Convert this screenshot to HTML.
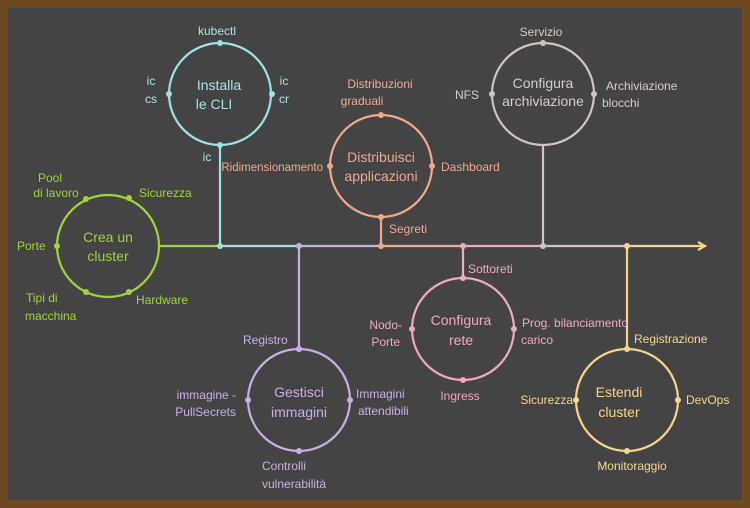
<!DOCTYPE html>
<html><head><meta charset="utf-8"><style>
html,body{margin:0;padding:0;background:#6e4a22;}
svg{display:block}
text{font-family:"Liberation Sans",sans-serif;font-size:12px}
.c{font-size:14px;text-anchor:middle}
</style></head><body>
<svg width="750" height="508" viewBox="0 0 750 508" xmlns="http://www.w3.org/2000/svg">
<rect x="0" y="0" width="750" height="508" fill="#6e4a22"/>
<rect x="8" y="8" width="734" height="492" fill="#444444"/>
<g stroke-width="2.2" fill="none">
<!-- main line -->
<line x1="159" y1="246" x2="220" y2="246" stroke="#9ed43a"/>
<line x1="220" y1="246" x2="298" y2="246" stroke="#9fe0e8"/>
<line x1="298" y1="246" x2="381" y2="246" stroke="#c9aee6"/>
<line x1="381" y1="246" x2="463" y2="246" stroke="#f0a98a"/>
<line x1="463" y1="246" x2="543" y2="246" stroke="#f1a8c2"/>
<line x1="543" y1="246" x2="627" y2="246" stroke="#cfc3c3"/>
<line x1="627" y1="246" x2="703" y2="246" stroke="#f5d58a"/>
<polyline points="698,242 705,246 698,250" stroke="#f5d58a"/>
<!-- stems -->
<line x1="220" y1="145" x2="220" y2="246" stroke="#9fe0e8"/>
<line x1="381" y1="217" x2="381" y2="246" stroke="#f0a98a"/>
<line x1="543" y1="146" x2="543" y2="246" stroke="#cfc3c3"/>
<line x1="299" y1="246" x2="299" y2="348" stroke="#c9aee6"/>
<line x1="463" y1="246" x2="463" y2="278" stroke="#f1a8c2"/>
<line x1="627" y1="246" x2="627" y2="348" stroke="#f5d58a"/>
<!-- circles -->
<circle cx="108" cy="246" r="51" stroke="#9ed43a"/>
<circle cx="220" cy="94" r="51" stroke="#9fe0e8"/>
<circle cx="381" cy="166" r="51" stroke="#f0a98a"/>
<circle cx="543" cy="94" r="51" stroke="#cfc3c3"/>
<circle cx="299" cy="400" r="51" stroke="#c9aee6"/>
<circle cx="463" cy="329" r="51" stroke="#f1a8c2"/>
<circle cx="627" cy="400" r="51" stroke="#f5d58a"/>
</g>
<!-- dots -->
<g fill="#9ed43a"><circle cx="86" cy="199" r="3"/><circle cx="129" cy="198" r="3"/><circle cx="57" cy="246" r="3"/><circle cx="86" cy="292" r="3"/><circle cx="129" cy="292" r="3"/></g>
<g fill="#9fe0e8"><circle cx="220" cy="43" r="3"/><circle cx="169" cy="94" r="3"/><circle cx="272" cy="94" r="3"/><circle cx="220" cy="145" r="3"/><circle cx="220" cy="246" r="3"/></g>
<g fill="#f0a98a"><circle cx="381" cy="115" r="3"/><circle cx="330" cy="166" r="3"/><circle cx="432" cy="166" r="3"/><circle cx="381" cy="217" r="3"/><circle cx="381" cy="246" r="3"/></g>
<g fill="#cfc3c3"><circle cx="543" cy="43" r="3"/><circle cx="492" cy="94" r="3"/><circle cx="594" cy="94" r="3"/><circle cx="543" cy="246" r="3"/></g>
<g fill="#c9aee6"><circle cx="299" cy="246" r="3"/><circle cx="299" cy="349" r="3"/><circle cx="248" cy="400" r="3"/><circle cx="350" cy="400" r="3"/><circle cx="299" cy="451" r="3"/></g>
<g fill="#f1a8c2"><circle cx="463" cy="246" r="3"/><circle cx="463" cy="278" r="3"/><circle cx="412" cy="329" r="3"/><circle cx="514" cy="329" r="3"/><circle cx="463" cy="380" r="3"/></g>
<g fill="#f5d58a"><circle cx="627" cy="246" r="3"/><circle cx="627" cy="349" r="3"/><circle cx="576" cy="400" r="3"/><circle cx="678" cy="400" r="3"/><circle cx="627" cy="451" r="3"/></g>
<!-- green -->
<g fill="#9ed43a">
<text class="c" x="108" y="242">Crea un</text><text class="c" x="108" y="261">cluster</text>
<text x="50" y="182" text-anchor="middle">Pool</text><text x="56" y="197" text-anchor="middle">di lavoro</text>
<text x="139" y="197">Sicurezza</text>
<text x="17" y="250">Porte</text>
<text x="26" y="302">Tipi di</text><text x="25" y="320">macchina</text>
<text x="136" y="304">Hardware</text>
</g>
<!-- cyan -->
<g fill="#a8e4ec">
<text class="c" x="219" y="90">Installa</text><text class="c" x="214" y="109">le CLI</text>
<text x="217" y="35" text-anchor="middle">kubectl</text>
<text x="151" y="85" text-anchor="middle">ic</text><text x="151" y="103" text-anchor="middle">cs</text>
<text x="284" y="85" text-anchor="middle">ic</text><text x="284" y="103" text-anchor="middle">cr</text>
<text x="207" y="161" text-anchor="middle">ic</text>
</g>
<!-- salmon -->
<g fill="#f0a98a">
<text class="c" x="381" y="162">Distribuisci</text><text class="c" x="381" y="181">applicazioni</text>
<text x="323" y="171" text-anchor="end" style="font-size:11.5px">Ridimensionamento</text>
<text x="380" y="88" text-anchor="middle">Distribuzioni</text><text x="362" y="105" text-anchor="middle">graduali</text>
<text x="441" y="171">Dashboard</text>
<text x="389" y="233">Segreti</text>
</g>
<!-- gray -->
<g fill="#d6cccc">
<text class="c" x="543" y="88">Configura</text><text class="c" x="543" y="106">archiviazione</text>
<text x="541" y="36" text-anchor="middle">Servizio</text>
<text x="455" y="99">NFS</text>
<text x="606" y="90">Archiviazione</text><text x="602" y="107">blocchi</text>
</g>
<!-- purple -->
<g fill="#c9aee6">
<text class="c" x="299" y="397">Gestisci</text><text class="c" x="299" y="417">immagini</text>
<text x="243" y="344">Registro</text>
<text x="236" y="399" text-anchor="end">immagine -</text><text x="236" y="416" text-anchor="end">PullSecrets</text>
<text x="356" y="398">Immagini</text><text x="358" y="415">attendibili</text>
<text x="262" y="470">Controlli</text><text x="262" y="488">vulnerabilità</text>
</g>
<!-- pink -->
<g fill="#f1a8c2">
<text class="c" x="461" y="325">Configura</text><text class="c" x="461" y="345">rete</text>
<text x="468" y="273">Sottoreti</text>
<text x="402" y="329" text-anchor="end">Nodo-</text><text x="400" y="346" text-anchor="end">Porte</text>
<text x="522" y="327">Prog. bilanciamento</text><text x="521" y="344">carico</text>
<text x="460" y="400" text-anchor="middle">Ingress</text>
</g>
<!-- yellow -->
<g fill="#f5d58a">
<text class="c" x="619" y="397">Estendi</text><text class="c" x="619" y="417">cluster</text>
<text x="634" y="343">Registrazione</text>
<text x="573" y="404" text-anchor="end">Sicurezza</text>
<text x="686" y="404">DevOps</text>
<text x="632" y="470" text-anchor="middle">Monitoraggio</text>
</g>
</svg>
</body></html>
